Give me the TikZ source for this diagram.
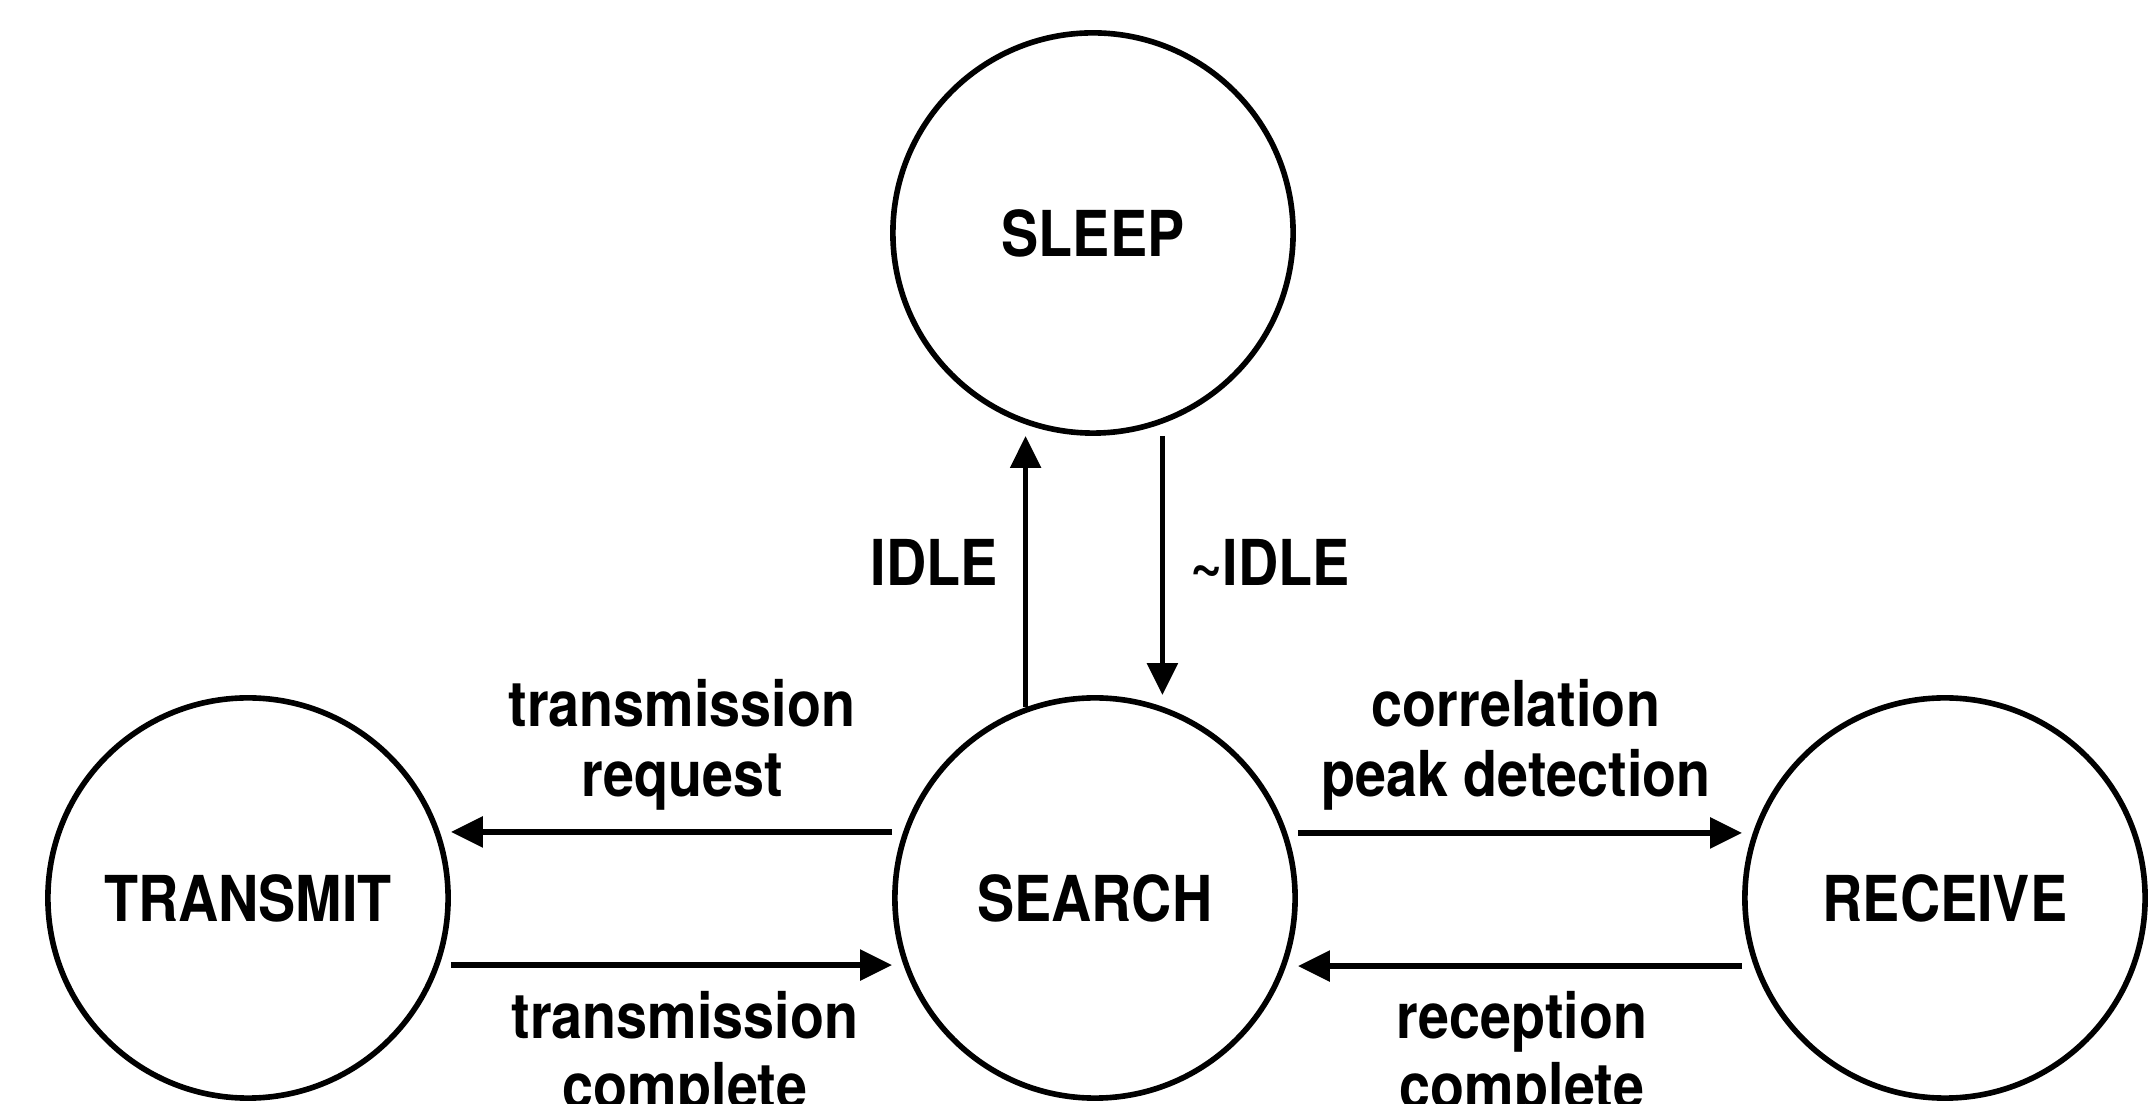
\documentclass[tikz,border=0pt]{standalone}
\usepackage{fontspec}
\setmainfont{TeX Gyre Heros}[FakeStretch=0.88]
\usetikzlibrary{arrows.meta}
\begin{document}
\begin{tikzpicture}[x=0.01cm,y=-0.01cm,
  state/.style={circle,draw,line width=1.6pt,minimum size=4cm,inner sep=0pt,
    font=\fontsize{18}{20}\selectfont\bfseries},
  lbl/.style={align=center,font=\fontsize{18}{20}\selectfont\bfseries,inner sep=0pt},
  trans/.style={line width=1.6pt,-{Triangle[length=0.32cm,width=0.3cm]}}]
\useasboundingbox (0,0) rectangle (2151,1104);
\clip (0,0) rectangle (2151,1104);
\node[state] (sleep) at (1093,233) {SLEEP};
\node[state] (search) at (1095,898) {SEARCH};
\node[state] (transmit) at (248,898) {TRANSMIT};
\node[state] (receive) at (1945,898) {RECEIVE};
\draw[trans] (search.110) -- (search.110 |- sleep.south);
\draw[trans] (sleep.290 |- sleep.south) -- (sleep.290 |- search.north);
\draw[trans] ([yshift=0.66cm]search.west) -- ([yshift=0.66cm]transmit.east);
\draw[trans] ([yshift=-0.67cm]transmit.east) -- ([yshift=-0.67cm]search.west);
\draw[trans] ([yshift=0.65cm]search.east) -- ([yshift=0.65cm]receive.west);
\draw[trans] ([yshift=-0.68cm]receive.west) -- ([yshift=-0.68cm]search.east);
\node[lbl] (lidle) at (934,562) {IDLE};
\node[lbl] (lnidle) at (1270,562) {\textasciitilde IDLE};
\node[lbl] (ltreq) at (682,745) {transmission\\request};
\node[lbl] (ltcomp) at (685,1057) {transmission\\complete};
\node[lbl] (lcorr) at (1516,745) {correlation\\peak detection};
\node[lbl] (lrec) at (1522,1057) {reception\\complete};
\end{tikzpicture}
\end{document}
